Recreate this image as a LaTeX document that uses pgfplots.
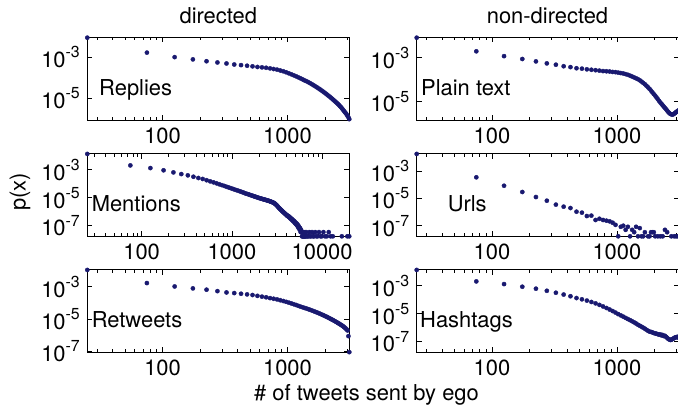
\documentclass[border=0pt]{standalone}
\usepackage{pgfplots}
\pgfplotsset{compat=1.18}
\usepackage{pgfplotstable}
\usepackage{fontspec}
\setmainfont{TeX Gyre Heros}
\definecolor{navy}{RGB}{25,25,112}
\newcommand{\tp}[1]{10\raisebox{0.45em}{\fontsize{16}{16}\selectfont -#1}}

\pgfplotstableread{
x y
25 8.913e-3
75 1.660e-3
125 1.000e-3
175 7.762e-4
225 6.310e-4
275 5.495e-4
325 4.898e-4
375 4.365e-4
425 4.074e-4
475 3.802e-4
525 3.548e-4
575 3.311e-4
625 3.162e-4
675 3.020e-4
725 2.818e-4
775 2.630e-4
825 2.455e-4
875 2.239e-4
925 2.042e-4
975 1.820e-4
1025 1.622e-4
1075 1.445e-4
1125 1.288e-4
1175 1.148e-4
1225 1.023e-4
1275 9.120e-5
1325 8.128e-5
1375 7.244e-5
1425 6.607e-5
1475 5.888e-5
1525 5.248e-5
1575 4.677e-5
1625 4.169e-5
1675 3.715e-5
1725 3.311e-5
1775 2.951e-5
1825 2.630e-5
1875 2.344e-5
1925 2.089e-5
1975 1.862e-5
2025 1.660e-5
2075 1.479e-5
2125 1.318e-5
2175 1.175e-5
2225 1.047e-5
2275 9.333e-6
2325 8.318e-6
2375 7.413e-6
2425 6.607e-6
2475 5.888e-6
2525 5.248e-6
2575 4.677e-6
2625 4.074e-6
2675 3.631e-6
2725 3.162e-6
2775 2.754e-6
2825 2.399e-6
2875 2.089e-6
2925 1.820e-6
2975 1.585e-6
3025 1.349e-6
3075 1.148e-6
3125 9.333e-7
}\replies

\pgfplotstableread{
x y
25 8.128e-3
75 1.950e-3
125 1.175e-3
175 8.710e-4
225 6.761e-4
275 5.495e-4
325 4.786e-4
375 4.074e-4
425 3.715e-4
475 3.311e-4
525 3.162e-4
575 2.951e-4
625 2.818e-4
675 2.692e-4
725 2.570e-4
775 2.455e-4
825 2.399e-4
875 2.344e-4
925 2.239e-4
975 2.188e-4
1025 2.089e-4
1075 1.995e-4
1125 1.905e-4
1175 1.778e-4
1225 1.660e-4
1275 1.514e-4
1325 1.380e-4
1375 1.259e-4
1425 1.148e-4
1475 1.047e-4
1525 9.333e-5
1575 8.128e-5
1625 7.079e-5
1675 6.166e-5
1725 5.248e-5
1775 4.467e-5
1825 3.802e-5
1875 3.162e-5
1925 2.630e-5
1975 2.188e-5
2025 1.862e-5
2075 1.549e-5
2125 1.288e-5
2175 1.072e-5
2225 9.120e-6
2275 7.943e-6
2325 6.761e-6
2375 5.888e-6
2425 5.129e-6
2475 4.467e-6
2525 3.890e-6
2575 3.388e-6
2625 3.020e-6
2675 2.754e-6
2725 2.630e-6
2775 2.570e-6
2825 2.630e-6
2875 2.818e-6
2925 3.020e-6
2975 3.311e-6
3025 3.548e-6
3075 3.802e-6
3125 3.981e-6
}\plaintext

\pgfplotstableread{
x y
25 1.349e-2
75 2.042e-3
125 1.318e-3
175 9.120e-4
225 6.457e-4
275 4.898e-4
325 3.981e-4
375 3.162e-4
425 2.570e-4
475 2.188e-4
525 1.778e-4
575 1.479e-4
625 1.259e-4
675 1.072e-4
725 9.120e-5
775 7.943e-5
825 6.918e-5
875 6.026e-5
925 5.370e-5
975 4.786e-5
1025 4.266e-5
1075 3.802e-5
1125 3.467e-5
1175 3.162e-5
1225 2.884e-5
1275 2.630e-5
1325 2.399e-5
1375 2.188e-5
1425 1.995e-5
1475 1.862e-5
1525 1.738e-5
1575 1.622e-5
1625 1.514e-5
1675 1.413e-5
1725 1.318e-5
1775 1.230e-5
1825 1.175e-5
1875 1.096e-5
1925 1.047e-5
1975 9.772e-6
2025 9.333e-6
2075 8.913e-6
2125 8.511e-6
2175 8.128e-6
2225 7.762e-6
2275 7.413e-6
2325 7.244e-6
2375 6.918e-6
2425 6.607e-6
2475 6.310e-6
2525 6.166e-6
2575 5.888e-6
2625 5.623e-6
2675 5.370e-6
2725 5.129e-6
2775 4.898e-6
2825 4.677e-6
2875 4.467e-6
2925 4.169e-6
2975 3.890e-6
3025 3.548e-6
3075 3.236e-6
3125 2.951e-6
3175 2.630e-6
3225 2.344e-6
3275 2.089e-6
3325 1.862e-6
3375 1.698e-6
3425 1.549e-6
3475 1.413e-6
3525 1.288e-6
3575 1.175e-6
3625 1.072e-6
3675 1.000e-6
3725 9.120e-7
3775 8.511e-7
3825 7.943e-7
3875 7.244e-7
3925 6.761e-7
3975 6.310e-7
4025 5.742e-7
4075 5.220e-7
4125 5.394e-7
4175 4.698e-7
4225 4.872e-7
4275 4.176e-7
4325 4.350e-7
4375 3.654e-7
4425 3.828e-7
4475 3.132e-7
4525 3.306e-7
4575 2.784e-7
4625 2.958e-7
4675 2.436e-7
4725 2.610e-7
4775 2.088e-7
4825 2.262e-7
4875 1.914e-7
4925 2.088e-7
4975 1.566e-7
5025 1.740e-7
5075 1.392e-7
5125 1.566e-7
5175 1.218e-7
5225 1.392e-7
5275 1.044e-7
5325 1.218e-7
5375 8.70e-8
5425 1.044e-7
5475 6.96e-8
5525 8.70e-8
5575 6.96e-8
5625 5.22e-8
5675 6.96e-8
5725 5.22e-8
5775 3.48e-8
5825 5.22e-8
5875 3.48e-8
5925 3.48e-8
5975 1.74e-8
6025 3.48e-8
6075 1.74e-8
6125 3.48e-8
6175 1.74e-8
6225 1.74e-8
6275 3.48e-8
6325 1.74e-8
6375 1.74e-8
6475 1.74e-8
6525 1.74e-8
6625 3.48e-8
6725 1.74e-8
6875 1.74e-8
7025 1.74e-8
7175 3.48e-8
7325 1.74e-8
7525 1.74e-8
7725 3.48e-8
7925 1.74e-8
8125 1.74e-8
8375 3.48e-8
8625 1.74e-8
8925 1.74e-8
9225 3.48e-8
9575 1.74e-8
9925 1.74e-8
10325 3.48e-8
10775 1.74e-8
11275 1.74e-8
11825 3.48e-8
12425 1.74e-8
13125 1.74e-8
16525 1.74e-8
19025 1.74e-8
19975 1.74e-8
}\mentions

\pgfplotstableread{
x y
25 1.905e-2
75 3.631e-4
125 8.710e-5
175 3.020e-5
225 1.288e-5
275 6.918e-6
325 3.548e-6
375 2.512e-6
425 1.995e-6
475 1.072e-6
525 9.120e-7
575 5.129e-7
625 5.495e-7
675 2.630e-7
725 3.236e-7
775 2.630e-7
825 2.344e-7
875 2.089e-7
925 1.660e-7
975 1.160e-7
1025 1.66e-8
1075 8.30e-8
1125 9.96e-8
1175 4.98e-8
1225 8.30e-8
1275 1.66e-8
1325 4.98e-8
1375 3.32e-8
1425 8.30e-8
1475 1.66e-8
1525 6.64e-8
1575 1.66e-8
1625 1.66e-8
1675 3.32e-8
1775 1.66e-8
1825 1.66e-8
1875 3.32e-8
1925 3.32e-8
1975 3.32e-8
2025 1.66e-8
2125 1.66e-8
2225 1.66e-8
2325 1.66e-8
2425 4.98e-8
2525 3.32e-8
2725 1.66e-8
2875 1.66e-8
2975 1.66e-8
3075 1.66e-8
}\urls

\pgfplotstableread{
x y
25 1.096e-2
75 1.698e-3
125 1.047e-3
175 7.943e-4
225 6.607e-4
275 5.370e-4
325 4.467e-4
375 4.074e-4
425 3.715e-4
475 3.388e-4
525 3.090e-4
575 2.754e-4
625 2.455e-4
675 2.239e-4
725 1.995e-4
775 1.820e-4
825 1.660e-4
875 1.479e-4
925 1.318e-4
975 1.175e-4
1025 1.047e-4
1075 9.333e-5
1125 8.318e-5
1175 7.413e-5
1225 6.607e-5
1275 5.888e-5
1325 5.370e-5
1375 4.898e-5
1425 4.467e-5
1475 4.074e-5
1525 3.715e-5
1575 3.388e-5
1625 3.090e-5
1675 2.818e-5
1725 2.570e-5
1775 2.344e-5
1825 2.138e-5
1875 1.950e-5
1925 1.778e-5
1975 1.622e-5
2025 1.479e-5
2075 1.349e-5
2125 1.230e-5
2175 1.122e-5
2225 1.023e-5
2275 9.333e-6
2325 8.511e-6
2375 7.762e-6
2425 7.079e-6
2475 6.457e-6
2525 5.888e-6
2575 5.370e-6
2625 4.898e-6
2675 4.467e-6
2725 4.074e-6
2775 3.715e-6
2825 3.311e-6
2875 2.951e-6
2925 2.630e-6
2975 2.291e-6
3025 1.995e-6
3075 8.913e-7
3125 9.12e-8
}\retweets

\pgfplotstableread{
x y
25 1.349e-2
75 2.042e-3
125 1.318e-3
175 8.511e-4
225 6.166e-4
275 4.365e-4
325 3.162e-4
375 2.344e-4
425 1.778e-4
475 1.318e-4
525 1.072e-4
575 8.710e-5
625 6.918e-5
675 5.495e-5
725 4.266e-5
775 3.311e-5
825 2.570e-5
875 1.995e-5
925 1.549e-5
975 1.202e-5
1025 9.333e-6
1075 7.586e-6
1125 6.166e-6
1175 5.012e-6
1225 4.169e-6
1275 3.467e-6
1325 2.884e-6
1375 2.399e-6
1425 1.995e-6
1475 1.622e-6
1525 1.380e-6
1575 1.175e-6
1625 1.000e-6
1675 8.511e-7
1725 7.079e-7
1775 6.026e-7
1825 5.248e-7
1875 5.012e-7
1925 4.571e-7
1975 4.169e-7
2025 3.890e-7
2075 3.715e-7
2125 3.467e-7
2175 3.162e-7
2225 3.311e-7
2275 2.818e-7
2325 3.020e-7
2375 2.512e-7
2425 2.630e-7
2475 2.188e-7
2525 1.905e-7
2575 1.585e-7
2625 1.445e-7
2675 1.318e-7
2725 1.380e-7
2775 1.514e-7
2825 1.660e-7
2875 1.820e-7
2925 1.995e-7
2975 2.089e-7
3025 2.188e-7
3075 1.995e-7
3125 2.344e-7
}\hashtags

\pgfplotsset{
 mypanel/.style={
  scale only axis, width=262bp, height=82.5bp,
  anchor=south west, xmin=25, xmax=3125,
  axis line style={black, line width=0.8bp},
  tick style={black, line width=0.7bp},
  major tick length=5bp, minor tick length=3bp,
  tick align=inside,
  yminorticks=false,
  xtick={100,1000}, xticklabels={100,1000},
  minor xtick={30,40,50,60,70,80,90,200,300,400,500,600,700,800,900,2000,3000,4000,5000,6000,7000,8000,9000,20000},
  tick label style={font=\fontsize{22}{22}\selectfont},
 },
 mydots/.style={only marks, mark=*, mark size=2.1bp, color=navy, mark options={draw=navy, fill=navy}},
}

\begin{document}
\fontsize{22}{26}\selectfont
\begin{tikzpicture}[x=1bp,y=1bp]
\path[use as bounding box] (0,0) rectangle (678,407);

% top row
\begin{axis}[xmode=log, ymode=log, mypanel, at={(87.3bp,287bp)}, ymin=8.5e-7, ymax=9.1e-3,
  ytick={1e-5,1e-3}, yticklabels={\tp{5},\tp{3}}]
\addplot[mydots] table {\replies};
\end{axis}
\begin{axis}[xmode=log, ymode=log, mypanel, at={(416.7bp,287bp)}, ymin=1.45e-6, ymax=8.3e-3,
  ytick={1e-5,1e-3}, yticklabels={\tp{5},\tp{3}}]
\addplot[mydots] table {\plaintext};
\end{axis}

% middle row
\begin{axis}[xmode=log, ymode=log, mypanel, at={(87.3bp,170.7bp)}, xmax=20000, ymin=1.74e-8, ymax=1.38e-2,
  xtick={100,1000,10000}, xticklabels={100,1000,10000},
  ytick={1e-7,1e-5,1e-3}, yticklabels={\tp{7},\tp{5},\tp{3}}]
\addplot[mydots] table {\mentions};
\end{axis}
\begin{axis}[xmode=log, ymode=log, mypanel, at={(416.7bp,170.7bp)}, ymin=1.66e-8, ymax=1.95e-2,
  ytick={1e-7,1e-5,1e-3}, yticklabels={\tp{7},\tp{5},\tp{3}}]
\addplot[mydots] table {\urls};
\end{axis}

% bottom row
\begin{axis}[xmode=log, ymode=log, mypanel, at={(87.3bp,54.7bp)}, ymin=8.9e-8, ymax=1.12e-2,
  ytick={1e-7,1e-5,1e-3}, yticklabels={\tp{7},\tp{5},\tp{3}}]
\addplot[mydots] table {\retweets};
\end{axis}
\begin{axis}[xmode=log, ymode=log, mypanel, at={(416.7bp,54.7bp)}, ymin=1.74e-8, ymax=1.38e-2,
  ytick={1e-7,1e-5,1e-3}, yticklabels={\tp{7},\tp{5},\tp{3}}]
\addplot[mydots] table {\hashtags};
\end{axis}

% panel labels
\node[anchor=base west, inner sep=0] at (99,311.3) {Replies};
\node[anchor=base west, inner sep=0] at (421,312) {Plain text};
\node[anchor=base west, inner sep=0] at (91.6,195.7) {Mentions};
\node[anchor=base west, inner sep=0] at (447.6,195.7) {Urls};
\node[anchor=base west, inner sep=0] at (91.6,79.7) {Retweets};
\node[anchor=base west, inner sep=0] at (420,79.7) {Hashtags};

% titles and axis labels
\node[anchor=base, inner sep=0] at (218.3,383.7) {directed};
\node[anchor=base, inner sep=0] at (547.5,383.7) {non-directed};
\node[anchor=base, inner sep=0] at (366.5,7) {\# of tweets sent by ego};
\node[rotate=90, inner sep=0] at (20,215) {p(x)};
\end{tikzpicture}
\end{document}
